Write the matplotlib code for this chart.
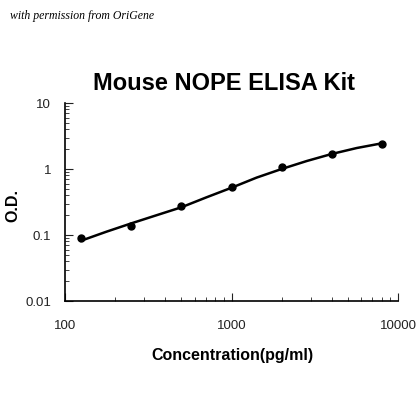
import numpy as np
import matplotlib
matplotlib.use("Agg")
import matplotlib.pyplot as plt

plt.rcParams['font.family'] = ['Liberation Sans', 'DejaVu Sans']

# standard points
conc = [125, 250, 500, 1000, 2000, 4000, 8000]
od = [0.089, 0.138, 0.272, 0.533, 1.06, 1.71, 2.39]

# fitted curve
curve_x = [125, 177, 250, 354, 500, 707, 1000, 1414, 2000, 2828, 4000, 5657, 8000]
curve_y = [0.082, 0.112, 0.150, 0.199, 0.263, 0.372, 0.52, 0.74, 1.0, 1.32, 1.69, 2.08, 2.45]

xticks = [100, 1000, 10000]
yticks = [0.01, 0.1, 1, 10]

fig = plt.figure(figsize=(4.2, 4.2), dpi=100)
ax = fig.add_axes([65/420, 1-301/420, 333/420, 198/420])

ax.plot(curve_x, curve_y, color='black', lw=1.8)
ax.plot(conc, od, 'o', color='black', ms=5)

ax.set_xscale('log')
ax.set_yscale('log')
ax.set_xlim(100, 10000)
ax.set_ylim(0.01, 10)
ax.set_xticks(xticks)
ax.set_xticklabels([str(v) for v in xticks])
ax.set_yticks(yticks)
ax.set_yticklabels(['0.01', '0.1', '1', '10'])
ax.tick_params(which='both', direction='in', labelsize=9.5, colors='#222222')
ax.tick_params(axis='x', which='major', length=6, pad=14)
ax.tick_params(axis='y', which='major', length=6, pad=10)
ax.tick_params(which='minor', length=3)
ax.spines['top'].set_visible(False)
ax.spines['right'].set_visible(False)
for s in ['left', 'bottom']:
    ax.spines[s].set_linewidth(1.2)

ax.set_xlabel('Concentration(pg/ml)', fontsize=11.5, fontweight='bold')
ax.xaxis.set_label_coords((232-65)/333, -(348-301)/198)
ax.set_ylabel('O.D.', fontsize=11.5, fontweight='bold')
ax.yaxis.set_label_coords(-(65-20)/333, (301-205)/198)

fig.text(224/420, 1-83/420, 'Mouse NOPE ELISA Kit', fontsize=17, fontweight='bold',
         ha='center', va='center')
fig.text(10/420, 1-16/420, 'with permission from OriGene', fontsize=8.5, style='italic',
         family='Liberation Serif', ha='left', va='center')

fig.savefig('out.png', dpi=100)
